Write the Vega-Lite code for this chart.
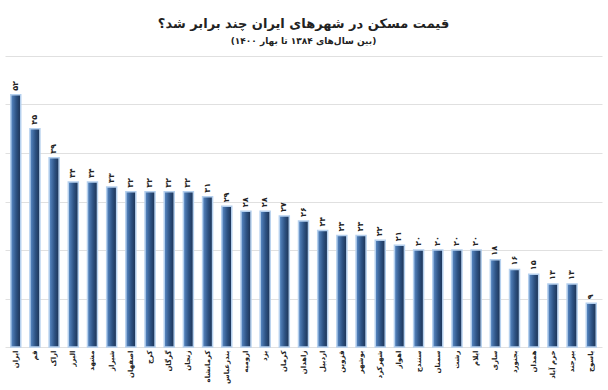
{
  "$schema": "https://vega.github.io/schema/vega-lite/v6.json",
  "width": 597,
  "height": 291,
  "autosize": "none",
  "padding": {"left": 5, "top": 56, "right": 6, "bottom": 43},
  "background": "white",
  "title": {
    "text": "قیمت مسکن در شهرهای ایران چند برابر شد؟",
    "subtitle": "(بین سال‌های ۱۳۸۴ تا بهار ۱۴۰۰)",
    "anchor": "middle",
    "font": "DejaVu Sans",
    "subtitleFont": "DejaVu Sans",
    "fontSize": 13,
    "fontWeight": "bold",
    "subtitleFontSize": 9,
    "subtitleFontWeight": "bold",
    "color": "#222222",
    "subtitleColor": "#222222",
    "subtitlePadding": 6,
    "offset": 10
  },
  "config": {
    "view": {"stroke": null},
    "font": "DejaVu Sans"
  },
  "data": {
    "values": [
      {"city": "ایران", "value": 52, "fa": "۵۲"},
      {"city": "قم", "value": 45, "fa": "۴۵"},
      {"city": "اراک", "value": 39, "fa": "۳۹"},
      {"city": "البرز", "value": 34, "fa": "۳۴"},
      {"city": "مشهد", "value": 34, "fa": "۳۴"},
      {"city": "شیراز", "value": 33, "fa": "۳۳"},
      {"city": "اصفهان", "value": 32, "fa": "۳۲"},
      {"city": "کرج", "value": 32, "fa": "۳۲"},
      {"city": "گرگان", "value": 32, "fa": "۳۲"},
      {"city": "زنجان", "value": 32, "fa": "۳۲"},
      {"city": "کرمانشاه", "value": 31, "fa": "۳۱"},
      {"city": "بندرعباس", "value": 29, "fa": "۲۹"},
      {"city": "ارومیه", "value": 28, "fa": "۲۸"},
      {"city": "یزد", "value": 28, "fa": "۲۸"},
      {"city": "کرمان", "value": 27, "fa": "۲۷"},
      {"city": "زاهدان", "value": 26, "fa": "۲۶"},
      {"city": "اردبیل", "value": 24, "fa": "۲۴"},
      {"city": "قزوین", "value": 23, "fa": "۲۳"},
      {"city": "بوشهر", "value": 23, "fa": "۲۳"},
      {"city": "شهرکرد", "value": 22, "fa": "۲۲"},
      {"city": "اهواز", "value": 21, "fa": "۲۱"},
      {"city": "سنندج", "value": 20, "fa": "۲۰"},
      {"city": "سمنان", "value": 20, "fa": "۲۰"},
      {"city": "رشت", "value": 20, "fa": "۲۰"},
      {"city": "ایلام", "value": 20, "fa": "۲۰"},
      {"city": "ساری", "value": 18, "fa": "۱۸"},
      {"city": "بجنورد", "value": 16, "fa": "۱۶"},
      {"city": "همدان", "value": 15, "fa": "۱۵"},
      {"city": "خرم آباد", "value": 13, "fa": "۱۳"},
      {"city": "بیرجند", "value": 13, "fa": "۱۳"},
      {"city": "یاسوج", "value": 9, "fa": "۹"}
    ]
  },
  "encoding": {
    "x": {
      "field": "city",
      "type": "nominal",
      "sort": null,
      "scale": {"paddingInner": 0.48, "paddingOuter": 0.3},
      "axis": {
        "title": null,
        "labelAngle": 270,
        "labelFontSize": 7,
        "labelFontWeight": "bold",
        "labelColor": "#222222",
        "labelPadding": 3,
        "ticks": false,
        "domain": false
      }
    },
    "y": {
      "field": "value",
      "type": "quantitative",
      "scale": {"domain": [0, 60]},
      "axis": {
        "title": null,
        "labels": false,
        "ticks": false,
        "domain": false,
        "tickCount": 6,
        "gridColor": "#e0e0e0",
        "gridWidth": 1
      }
    }
  },
  "layer": [
    {
      "mark": {
        "type": "bar",
        "stroke": "#b5d0ee",
        "strokeWidth": 1.5,
        "color": {
          "gradient": "linear",
          "x1": 0, "x2": 1, "y1": 0, "y2": 0,
          "stops": [
            {"offset": 0, "color": "#5b8cc8"},
            {"offset": 0.55, "color": "#2d5283"},
            {"offset": 1, "color": "#1b3152"}
          ]
        }
      }
    },
    {
      "mark": {
        "type": "text",
        "angle": 270,
        "align": "left",
        "baseline": "middle",
        "dx": 4,
        "fontSize": 8,
        "fontWeight": "bold",
        "color": "#222222"
      },
      "encoding": {"text": {"field": "fa"}}
    }
  ]
}
